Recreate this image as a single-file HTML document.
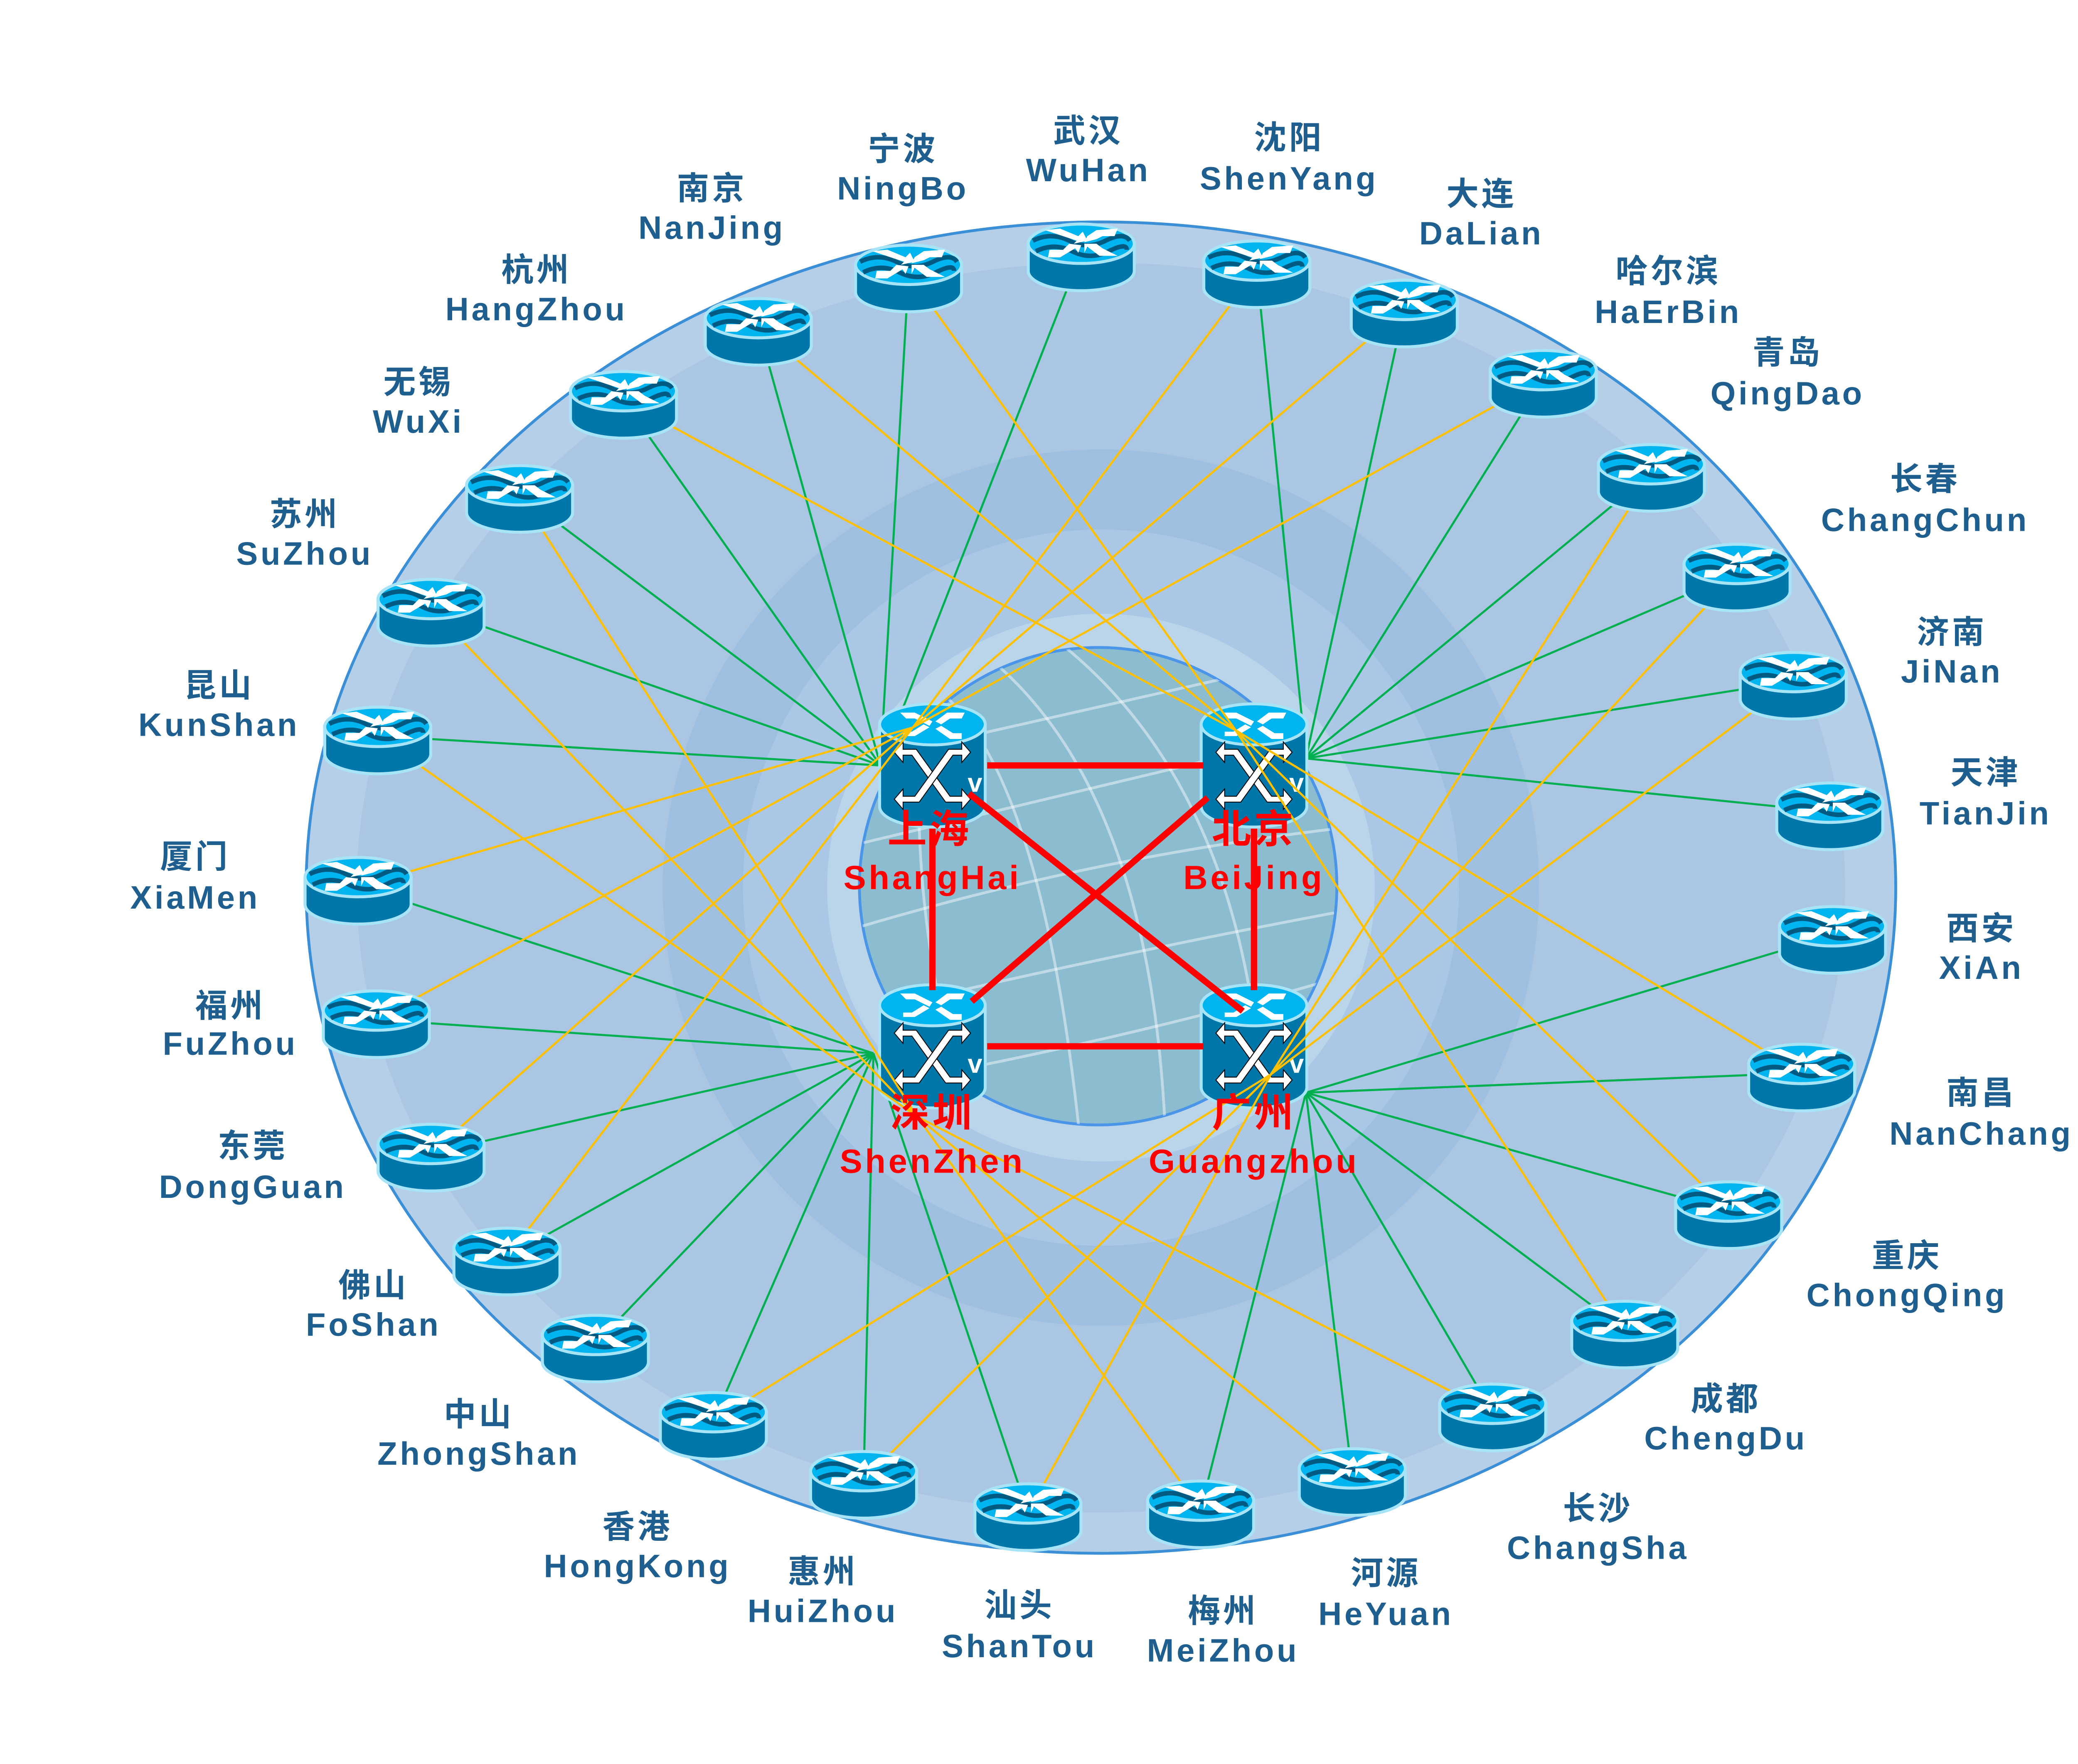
<!DOCTYPE html>
<html><head><meta charset="utf-8"><style>
html,body{margin:0;padding:0;background:#fff;}
svg{display:block;}
.lb{font-family:"Liberation Sans Narrow","Liberation Sans","Noto Sans CJK SC",sans-serif;fill:#1f5f8f;font-size:23px;letter-spacing:2px;text-anchor:middle;font-weight:bold;}
.rd{font-family:"Liberation Sans","Noto Sans CJK SC",sans-serif;fill:#ff0000;font-size:24px;letter-spacing:2px;text-anchor:middle;font-weight:bold;}
.rc{font-size:28px;}
.g line{stroke:#00b050;stroke-width:1.5;}
.y line{stroke:#ffc000;stroke-width:1.5;}
</style></head><body>
<svg width="5244" height="4244" viewBox="0 0 1552 1256" xmlns="http://www.w3.org/2000/svg">
<defs>
<symbol id="rt" viewBox="-38 -24 76 48" overflow="visible">
<path d="M-35,-6 L-35,12 A35,13 0 0 0 35,12 L35,-6 Z" fill="#0077a8" stroke="#a8e4f8" stroke-width="2"/>
<ellipse cx="0" cy="-6" rx="35" ry="13" fill="#00b4f0" stroke="#a8e4f8" stroke-width="2"/>
<path d="M-32,-8 Q-20,-14 -8,-8 T16,-8 T32,-8" fill="none" stroke="#005a82" stroke-width="3"/>
<path d="M-30,-1 Q-18,-7 -6,-1 T18,-1 T30,-2" fill="none" stroke="#005a82" stroke-width="3"/>
<polygon points="-24,-15 -14,-16 -2,-11 1,-14 4,-8 -5,-6 -3,-8 -15,-12" fill="#fff"/>
<polygon points="24,-16 10,-15 4,-11 2,-7 10,-9 14,-11 22,-11" fill="#fff"/>
<polygon points="-22,3 -14,3 -4,-3 -2,0 0,-5 -8,-6 -12,-2 -21,-2" fill="#fff"/>
<polygon points="24,2 12,2 4,-4 2,0 2,-6 10,-6 14,-3" fill="#fff"/>
</symbol>
<symbol id="sw" viewBox="-40 -45 80 90" overflow="visible">
<path d="M-36,-28 L-36,28 A36,14 0 0 0 36,28 L36,-28 Z" fill="#0077a8" stroke="#a8e4f8" stroke-width="2"/>
<ellipse cx="0" cy="-28" rx="36" ry="14" fill="#00b4f0" stroke="#a8e4f8" stroke-width="2"/>
<polygon points="-22,-36 -12,-36 0,-30 -2,-27 -12,-32 -18,-32" fill="#fff"/>
<polygon points="22,-36 10,-36 2,-30 6,-28 12,-32 20,-32" fill="#fff"/>
<polygon points="-20,-20 -12,-20 -2,-26 -6,-28 -14,-23 -20,-23" fill="#fff"/>
<polygon points="20,-18 12,-18 2,-25 6,-27 14,-22 20,-22" fill="#fff"/>
<path d="M-26,-9 L-20,-16 L-20,-11 L-11,-11 L12,21 L20,21 L20,16 L26,23 L20,30 L20,25 L9,25 L-14,-7 L-20,-7 L-20,-2 Z" fill="#fff" stroke="#000" stroke-width="0.6"/>
<path d="M26,-9 L20,-16 L20,-11 L11,-11 L-12,21 L-20,21 L-20,16 L-26,23 L-20,30 L-20,25 L-9,25 L14,-7 L20,-7 L20,-2 Z" fill="#fff" stroke="#000" stroke-width="0.6"/>
<text x="29" y="18" font-family="Liberation Sans,sans-serif" font-size="18" font-weight="bold" fill="#fff" text-anchor="middle">v</text>
</symbol>
<clipPath id="gc"><circle cx="782" cy="631" r="170"/></clipPath>
</defs>
<ellipse cx="784" cy="632" rx="566" ry="474" fill="#b5cfe8" stroke="#3a8fd6" stroke-width="2"/>
<ellipse cx="784" cy="632" rx="530" ry="445" fill="#aac6e3"/>
<ellipse cx="784" cy="632" rx="312" ry="312" fill="#9fbfe0"/>
<ellipse cx="784" cy="632" rx="255" ry="255" fill="#aac8e5"/>
<ellipse cx="784" cy="632" rx="195" ry="195" fill="#bad4ea"/>
<circle cx="782" cy="631" r="170" fill="#8bbccf" stroke="#4a95e8" stroke-width="2"/>
<g clip-path="url(#gc)" fill="none" stroke="#fff" stroke-opacity="0.45" stroke-width="2">
<path d="M650,480 Q740,520 770,820" /><path d="M700,465 Q820,560 830,810"/><path d="M760,462 Q890,570 900,800"/>
<path d="M615,600 Q780,560 950,520"/><path d="M612,660 Q780,610 952,590"/><path d="M620,720 Q790,680 950,650"/><path d="M640,770 Q800,740 940,700"/>
<path d="M660,480 Q640,630 690,800"/><path d="M620,540 Q800,500 930,470"/>
</g>
<g class="g">
<line x1="647" y1="195" x2="627" y2="545"/><line x1="770" y1="180" x2="627" y2="545"/><line x1="540" y1="233" x2="627" y2="545"/><line x1="444" y1="285" x2="627" y2="545"/><line x1="370" y1="352" x2="627" y2="545"/><line x1="307" y1="433" x2="627" y2="545"/><line x1="269" y1="524" x2="627" y2="545"/>
<line x1="895" y1="192" x2="930" y2="540"/><line x1="1000" y1="220" x2="930" y2="540"/><line x1="1099" y1="270" x2="930" y2="540"/><line x1="1176" y1="337" x2="930" y2="540"/><line x1="1237" y1="408" x2="930" y2="540"/><line x1="1277" y1="485" x2="930" y2="540"/><line x1="1303" y1="578" x2="930" y2="540"/>
<line x1="1305" y1="666" x2="930" y2="778"/><line x1="1283" y1="764" x2="930" y2="778"/><line x1="1231" y1="862" x2="930" y2="778"/><line x1="1157" y1="947" x2="930" y2="778"/><line x1="1063" y1="1006" x2="930" y2="778"/><line x1="963" y1="1052" x2="930" y2="778"/><line x1="855" y1="1075" x2="930" y2="778"/>
<line x1="732" y1="1077" x2="622" y2="750"/><line x1="615" y1="1054" x2="622" y2="750"/><line x1="508" y1="1012" x2="622" y2="750"/><line x1="424" y1="957" x2="622" y2="750"/><line x1="361" y1="895" x2="622" y2="750"/><line x1="307" y1="821" x2="622" y2="750"/><line x1="268" y1="726" x2="622" y2="750"/><line x1="255" y1="631" x2="622" y2="750"/>
</g>
<g>
<use href="#sw" x="622" y="498" width="84" height="94"/>
<use href="#sw" x="851" y="498" width="84" height="94"/>
<use href="#sw" x="622" y="698" width="84" height="94"/>
<use href="#sw" x="851" y="698" width="84" height="94"/>
</g>
<g stroke="#ff0000" stroke-width="4.5">
<line x1="703" y1="545" x2="857" y2="545"/><line x1="703" y1="745" x2="857" y2="745"/>
<line x1="664" y1="590" x2="664" y2="705"/><line x1="893" y1="590" x2="893" y2="705"/>
<line x1="690" y1="565" x2="885" y2="720"/><line x1="860" y1="568" x2="692" y2="713"/>
</g>
<g class="y">
<line x1="647" y1="195" x2="880" y2="520"/><line x1="540" y1="233" x2="880" y2="520"/><line x1="444" y1="285" x2="880" y2="520"/><line x1="370" y1="352" x2="653" y2="795"/><line x1="307" y1="433" x2="653" y2="795"/><line x1="269" y1="524" x2="653" y2="795"/>
<line x1="895" y1="192" x2="650" y2="518"/><line x1="1000" y1="220" x2="650" y2="518"/><line x1="1099" y1="270" x2="650" y2="518"/><line x1="1176" y1="337" x2="905" y2="765"/><line x1="1237" y1="408" x2="905" y2="765"/><line x1="1277" y1="485" x2="905" y2="765"/>
<line x1="1283" y1="764" x2="880" y2="520"/><line x1="1231" y1="862" x2="880" y2="520"/><line x1="1157" y1="947" x2="880" y2="520"/><line x1="1063" y1="1006" x2="653" y2="795"/><line x1="963" y1="1052" x2="653" y2="795"/><line x1="855" y1="1075" x2="653" y2="795"/>
<line x1="732" y1="1077" x2="905" y2="765"/><line x1="508" y1="1012" x2="905" y2="765"/><line x1="615" y1="1054" x2="905" y2="765"/>
<line x1="361" y1="895" x2="650" y2="518"/><line x1="307" y1="821" x2="650" y2="518"/><line x1="268" y1="726" x2="650" y2="518"/><line x1="255" y1="631" x2="650" y2="518"/>
</g>
<g>
<use href="#rt" x="729" y="154" width="82" height="52"/><use href="#rt" x="854" y="166" width="82" height="52"/><use href="#rt" x="959" y="194" width="82" height="52"/><use href="#rt" x="1058" y="244" width="82" height="52"/><use href="#rt" x="1135" y="311" width="82" height="52"/><use href="#rt" x="1196" y="382" width="82" height="52"/><use href="#rt" x="1236" y="459" width="82" height="52"/><use href="#rt" x="1262" y="552" width="82" height="52"/><use href="#rt" x="1264" y="640" width="82" height="52"/><use href="#rt" x="1242" y="738" width="82" height="52"/><use href="#rt" x="1190" y="836" width="82" height="52"/><use href="#rt" x="1116" y="921" width="82" height="52"/><use href="#rt" x="1022" y="980" width="82" height="52"/><use href="#rt" x="922" y="1026" width="82" height="52"/><use href="#rt" x="814" y="1049" width="82" height="52"/><use href="#rt" x="691" y="1051" width="82" height="52"/><use href="#rt" x="574" y="1028" width="82" height="52"/><use href="#rt" x="467" y="986" width="82" height="52"/><use href="#rt" x="383" y="931" width="82" height="52"/><use href="#rt" x="320" y="869" width="82" height="52"/><use href="#rt" x="266" y="795" width="82" height="52"/><use href="#rt" x="227" y="700" width="82" height="52"/><use href="#rt" x="214" y="605" width="82" height="52"/><use href="#rt" x="228" y="498" width="82" height="52"/><use href="#rt" x="266" y="407" width="82" height="52"/><use href="#rt" x="329" y="326" width="82" height="52"/><use href="#rt" x="403" y="259" width="82" height="52"/><use href="#rt" x="499" y="207" width="82" height="52"/><use href="#rt" x="606" y="169" width="82" height="52"/>
</g>
<g class="rd">
<text class="rc" x="662" y="600">上海</text><text x="664" y="633">ShangHai</text>
<text class="rc" x="893" y="600">北京</text><text x="893" y="633">BeiJing</text>
<text class="rc" x="664" y="802">深圳</text><text x="664" y="835">ShenZhen</text>
<text class="rc" x="893" y="802">广州</text><text x="893" y="835">Guangzhou</text>
</g>
<g class="lb">
<text x="775" y="101">武汉</text><text x="775" y="129">WuHan</text>
<text x="918" y="106">沈阳</text><text x="918" y="135">ShenYang</text>
<text x="1055" y="146">大连</text><text x="1055" y="174">DaLian</text>
<text x="1188" y="201">哈尔滨</text><text x="1188" y="230">HaErBin</text>
<text x="1273" y="259">青岛</text><text x="1273" y="288">QingDao</text>
<text x="1371" y="349">长春</text><text x="1371" y="378">ChangChun</text>
<text x="1390" y="458">济南</text><text x="1390" y="486">JiNan</text>
<text x="1414" y="558">天津</text><text x="1414" y="587">TianJin</text>
<text x="1411" y="669">西安</text><text x="1411" y="697">XiAn</text>
<text x="1411" y="786">南昌</text><text x="1411" y="815">NanChang</text>
<text x="1358" y="902">重庆</text><text x="1358" y="930">ChongQing</text>
<text x="1229" y="1004">成都</text><text x="1229" y="1032">ChengDu</text>
<text x="1138" y="1082">长沙</text><text x="1138" y="1110">ChangSha</text>
<text x="987" y="1128">河源</text><text x="987" y="1157">HeYuan</text>
<text x="871" y="1155">梅州</text><text x="871" y="1183">MeiZhou</text>
<text x="726" y="1151">汕头</text><text x="726" y="1180">ShanTou</text>
<text x="586" y="1127">惠州</text><text x="586" y="1155">HuiZhou</text>
<text x="454" y="1095">香港</text><text x="454" y="1123">HongKong</text>
<text x="341" y="1015">中山</text><text x="341" y="1043">ZhongShan</text>
<text x="266" y="923">佛山</text><text x="266" y="951">FoShan</text>
<text x="180" y="824">东莞</text><text x="180" y="853">DongGuan</text>
<text x="164" y="724">福州</text><text x="164" y="751">FuZhou</text>
<text x="139" y="618">厦门</text><text x="139" y="647">XiaMen</text>
<text x="156" y="496">昆山</text><text x="156" y="524">KunShan</text>
<text x="217" y="374">苏州</text><text x="217" y="402">SuZhou</text>
<text x="298" y="280">无锡</text><text x="298" y="308">WuXi</text>
<text x="382" y="200">杭州</text><text x="382" y="228">HangZhou</text>
<text x="507" y="142">南京</text><text x="507" y="170">NanJing</text>
<text x="643" y="114">宁波</text><text x="643" y="142">NingBo</text>
</g>
</svg>
</body></html>
